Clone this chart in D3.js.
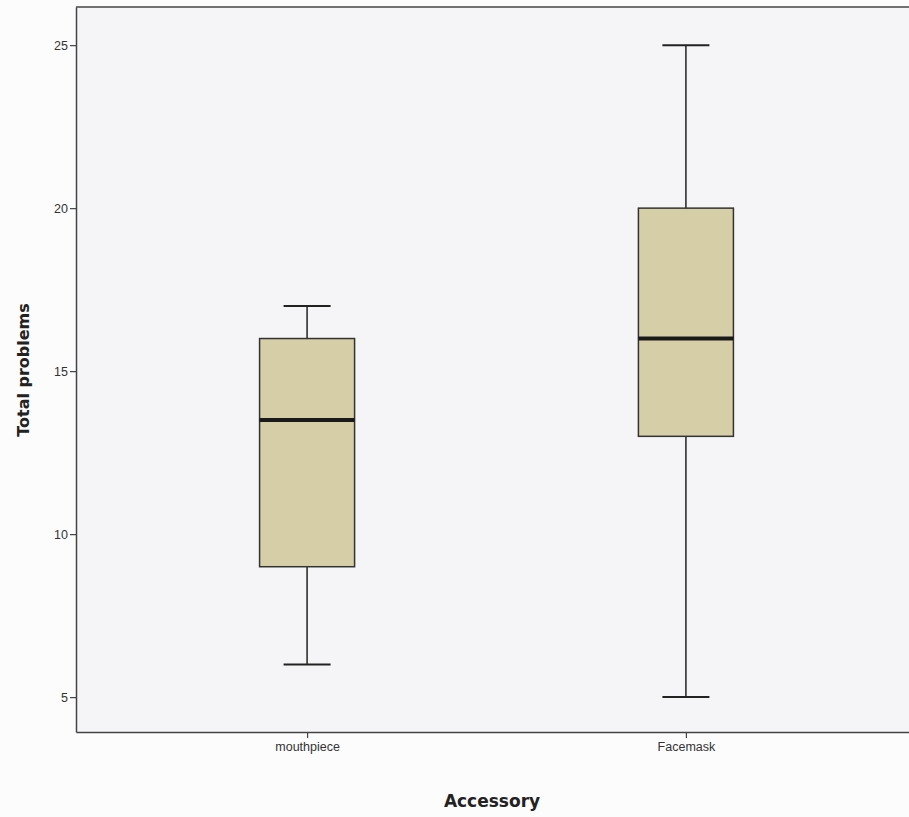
<!DOCTYPE html>
<html>
<head>
<meta charset="utf-8">
<script src="https://d3js.org/d3.v7.min.js"></script>
<style>
  body { margin: 0; background: #fcfcfc; }
  svg { display: block; }
</style>
</head>
<body>
<div id="chart"></div>
<script>
// data
var categories = ["mouthpiece", "Facemask"];
var mins    = [6, 5];
var q1s     = [9, 13];
var medians = [13.5, 16];
var q3s     = [16, 20];
var maxs    = [17, 25];
var yTicks  = [5, 10, 15, 20, 25];

var data = categories.map(function(c, i) {
  return {name: c, min: mins[i], q1: q1s[i], median: medians[i], q3: q3s[i], max: maxs[i]};
});

var W = 909, H = 817;
var margin = {top: 7, right: -8, bottom: 85, left: 76},
    width = W - margin.left - margin.right,
    height = H - margin.top - margin.bottom;

var svg = d3.select("#chart")
  .append("svg")
  .attr("width", W)
  .attr("height", H);

var g = svg.append("g")
  .attr("transform", "translate(" + margin.left + "," + margin.top + ")");

// plot background
g.append("rect")
  .attr("width", width)
  .attr("height", height)
  .attr("fill", "#f5f5f7");

var x = d3.scalePoint()
  .domain(categories)
  .range([0, width])
  .padding(0.61);

var y = d3.scaleLinear()
  .domain([3.93, 26.17])
  .range([height, 0]);

var boxW = 95, capW = 47;

// whiskers
g.selectAll(".whisker")
  .data(data)
  .enter()
  .append("line")
    .attr("x1", function(d) { return x(d.name); })
    .attr("x2", function(d) { return x(d.name); })
    .attr("y1", function(d) { return y(d.min); })
    .attr("y2", function(d) { return y(d.max); })
    .attr("stroke", "#222")
    .attr("stroke-width", 1.5);

// caps
["min", "max"].forEach(function(k) {
  g.selectAll(".cap-" + k)
    .data(data)
    .enter()
    .append("line")
      .attr("x1", function(d) { return x(d.name) - capW / 2; })
      .attr("x2", function(d) { return x(d.name) + capW / 2; })
      .attr("y1", function(d) { return y(d[k]); })
      .attr("y2", function(d) { return y(d[k]); })
      .attr("stroke", "#222")
      .attr("stroke-width", 2);
});

// boxes
g.selectAll(".box")
  .data(data)
  .enter()
  .append("rect")
    .attr("x", function(d) { return x(d.name) - boxW / 2; })
    .attr("y", function(d) { return y(d.q3); })
    .attr("width", boxW)
    .attr("height", function(d) { return y(d.q1) - y(d.q3); })
    .attr("fill", "#d5cea7")
    .attr("stroke", "#333")
    .attr("stroke-width", 1.5);

// medians
g.selectAll(".median")
  .data(data)
  .enter()
  .append("line")
    .attr("x1", function(d) { return x(d.name) - boxW / 2; })
    .attr("x2", function(d) { return x(d.name) + boxW / 2; })
    .attr("y1", function(d) { return y(d.median); })
    .attr("y2", function(d) { return y(d.median); })
    .attr("stroke", "#1a1a1a")
    .attr("stroke-width", 4);

// axes
var yAxis = g.append("g")
  .call(d3.axisLeft(y).tickValues(yTicks).tickSize(6).tickSizeOuter(0).tickPadding(2));
var xAxis = g.append("g")
  .attr("transform", "translate(0," + height + ")")
  .call(d3.axisBottom(x).tickSize(6).tickSizeOuter(0).tickPadding(4));

[yAxis, xAxis].forEach(function(a) {
  a.select(".domain").attr("stroke", "#444").attr("stroke-width", 1.5);
  a.selectAll(".tick line").attr("stroke", "#444").attr("stroke-width", 1.2);
  a.selectAll("text")
    .attr("fill", "#333")
    .style("font-family", "Liberation Sans, Arial, sans-serif")
    .style("font-size", "12.5px");
});

// top border
g.append("line")
  .attr("x1", 0).attr("x2", width)
  .attr("y1", 0).attr("y2", 0)
  .attr("stroke", "#444")
  .attr("stroke-width", 1.5);

// titles
svg.append("text")
  .attr("x", margin.left + 416)
  .attr("y", 807)
  .attr("text-anchor", "middle")
  .style("font-family", "DejaVu Sans, sans-serif")
  .style("font-weight", "bold")
  .style("font-size", "17px")
  .attr("fill", "#222")
  .text("Accessory");

svg.append("text")
  .attr("transform", "translate(29," + 370 + ") rotate(-90)")
  .attr("text-anchor", "middle")
  .style("font-family", "DejaVu Sans, sans-serif")
  .style("font-weight", "bold")
  .style("font-size", "16px")
  .attr("fill", "#222")
  .text("Total problems");
</script>
</body>
</html>
